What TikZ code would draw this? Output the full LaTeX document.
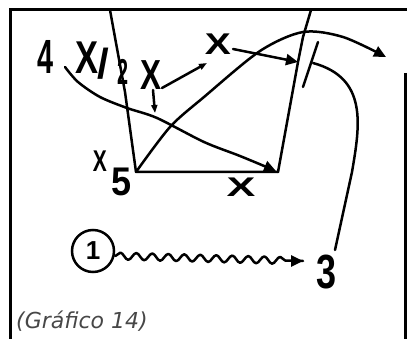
\documentclass[tikz,border=0pt]{standalone}
\usepackage{fontspec}
\setmainfont{Liberation Sans}
\newfontfamily\capfont{DejaVu Sans}
\usetikzlibrary{arrows.meta,decorations.pathmorphing}
\begin{document}
\begin{tikzpicture}[x=1pt,y=-1pt,
  ln/.style={line width=2.5pt, line cap=round, line join=round},
  bd/.style={line width=3pt},
  bigtip/.style={-{Triangle[length=12pt,width=11pt]}},
  smalltip/.style={-{Triangle[length=8pt,width=6pt]}},
  hw/.style={inner sep=0pt, font=\bfseries\fontsize{#1}{#1}\selectfont},
]
\useasboundingbox (0,0) rectangle (407,339);
% frame
\draw[bd] (10,339) -- (10,10) -- (407,10);
\draw[bd] (405,73) -- (405,339);
% key points
\coordinate (LT) at (110,10);
\coordinate (RT) at (311,10);
\coordinate (A5) at (136,172);
\coordinate (E) at (278,172);
\coordinate (P) at (298,62);
% lane lines
\draw[ln] (LT) -- (114,32) -- (125,92) -- (A5) -- (E);
\draw[ln] (RT) -- (303,37) -- (P) -- (E);
% labels
\node[hw=48, xscale=0.6] (n4) at (46,57) {4};
\node[hw=46, xscale=0.75] (x4) at (87,58) {X};
\node[hw=42] (sl) at (103,64) {/};
\node[hw=36, xscale=0.55] (n2) at (123,72) {2};
\node[hw=42, xscale=0.75] (x2) at (151,75) {X};
\node[hw=30, xscale=1.3] (xd) at (218,44) {X};
\node[hw=30, xscale=0.7] (x5) at (100,161) {X};
\node[hw=40, xscale=0.9] (n5) at (122,182) {5};
\node[hw=27, xscale=1.6] (xb) at (241,187) {X};
\node[hw=48, xscale=0.75] (n3) at (327,272) {3};
% player 4 cut
\draw[ln,bigtip] plot[smooth] coordinates {(65,67) (78,82) (100,97) (127,108) (157,118) (204,142) (240,156) (276,171)};
% player 5 cut
\draw[ln,bigtip] plot[smooth] coordinates {(A5) (170,127) (204,97) (260,51) (303,32) (343,37) (386,57)};
% 2 movement and pass
\draw[ln,smalltip] (153,90) -- (155,113);
\draw[ln,smalltip] (162,88) -- (207,63);
% defender to post
\draw[ln,bigtip] (233,49) -- (P);
% screen stroke
\coordinate (S1) at (318,42);
\coordinate (S2) at (303,87);
\draw[ln] (S1) -- (S2);
% player 3 path
\coordinate (T3) at (335,250);
\draw[ln] (T3) -- (352,172) .. controls (360,125) and (368,78) .. (313,63);
% dribble
\node[circle, draw, line width=2.5pt, minimum size=42pt, inner sep=0pt, hw=26] (c1) at (93,251) {1};
\coordinate (DE) at (303,261);
\draw[ln, decorate, decoration={snake, amplitude=3.5pt, segment length=16pt, post length=14pt}] (c1.east) ++(0,5) -- (DE);
\draw[ln,bigtip] (290,261) -- (DE);
% caption
\node[inner sep=0pt, anchor=west, text=black!72, font=\capfont\itshape\fontsize{22}{22}\selectfont] (cap) at (16,321) {(Gráfico 14)};
\end{tikzpicture}
\end{document}
